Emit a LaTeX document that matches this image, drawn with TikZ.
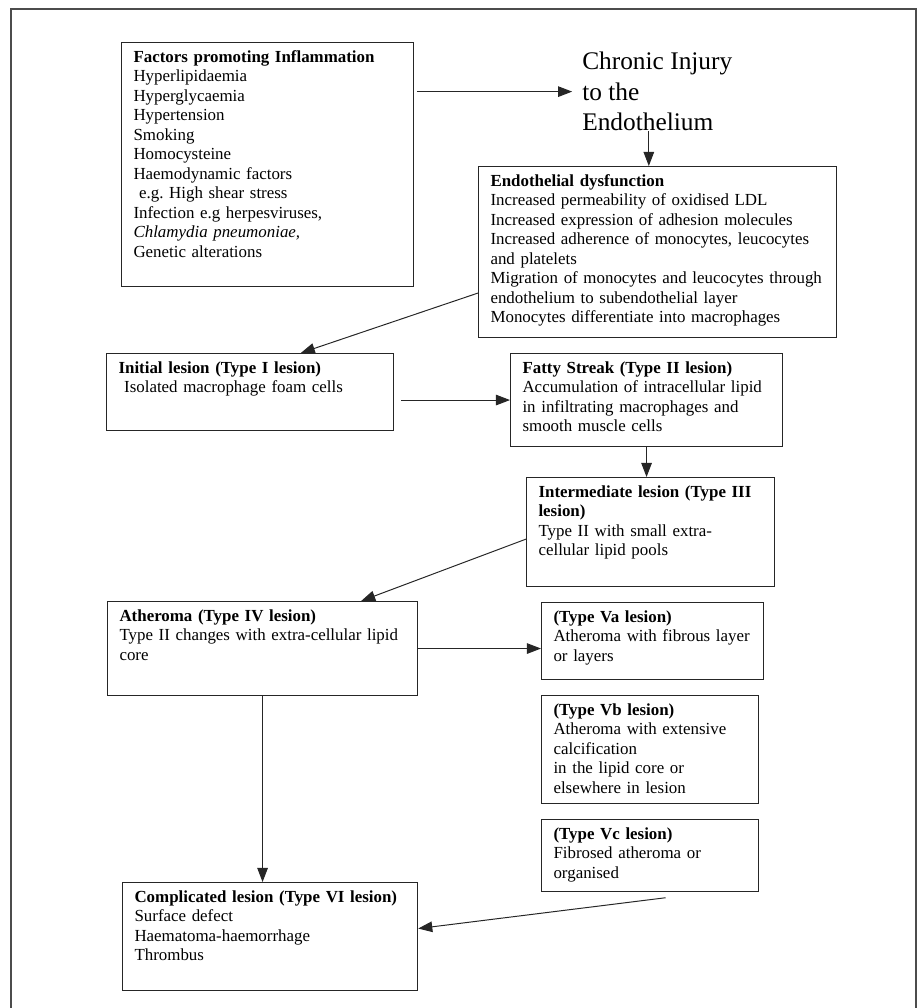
\documentclass[tikz,border=0pt]{standalone}
\usepackage{fontspec}
\setmainfont{Liberation Serif}
\usetikzlibrary{arrows.meta}
\tikzset{
  lesion/.style={draw=black!85, line width=0.8pt, anchor=north west, align=left,
    inner xsep=8.5pt, inner ysep=5pt, text height=9pt,
    font=\fontsize{12}{13.85}\selectfont\frenchspacing},
  arr/.style={draw=black!85, line width=0.7pt, -{Triangle[length=10pt,width=7.5pt]}}
}
\begin{document}
\begin{tikzpicture}[x=0.71pt,y=-0.71pt]
  \useasboundingbox (0,0) rectangle (921,1008);
  \draw[black!70,line width=1.1pt] (11,1008) -- (11,9) -- (916,9) -- (916,1008);

  \node[lesion,text width=190.3pt,text depth=154.2pt] (fac) at (121,42)
    {\textbf{Factors promoting Inflammation}\\Hyperlipidaemia\\Hyperglycaemia\\Hypertension\\Smoking\\Homocysteine\\Haemodynamic factors\\~e.g. High shear stress\\Infection e.g herpesviruses,\\\textit{Chlamydia pneumoniae,}\\Genetic alterations};
  \node[anchor=north west,align=left,inner sep=0pt,font=\fontsize{18}{21.6}\selectfont] (chronic) at (582,52)
    {Chronic Injury\\to the\\Endothelium};
  \node[lesion,text width=237.2pt,text depth=102.4pt] (endo) at (478,166)
    {\textbf{Endothelial dysfunction}\\Increased permeability of oxidised LDL\\Increased expression of adhesion molecules\\Increased adherence of monocytes, leucocytes\\and platelets\\Migration of monocytes and leucocytes through\\endothelium to subendothelial layer\\Monocytes differentiate into macrophages};
  \node[lesion,text width=186.8pt,text depth=35.7pt] (init) at (106,353)
    {\textbf{Initial lesion (Type I lesion)}\\~Isolated macrophage foam cells};
  \node[lesion,text width=176.1pt,text depth=47pt] (fatty) at (510,353)
    {\textbf{Fatty Streak (Type II lesion)}\\Accumulation of intracellular lipid\\in infiltrating macrophages and\\smooth muscle cells};
  \node[lesion,text width=159.1pt,text depth=58.4pt] (inter) at (526,477)
    {\textbf{Intermediate lesion (Type III}\\\textbf{lesion)}\\Type II with small extra-\\cellular lipid pools};
  \node[lesion,text width=203.1pt,text depth=47.7pt] (ather) at (107,601)
    {\textbf{Atheroma (Type IV lesion)}\\Type II changes with extra-cellular lipid\\core};
  \node[lesion,text width=140.6pt,text depth=35.7pt] (va) at (541,602)
    {\textbf{(Type Va lesion)}\\Atheroma with fibrous layer\\or layers};
  \node[lesion,text width=137.1pt,text depth=57.7pt] (vb) at (541,695)
    {\textbf{(Type Vb lesion)}\\Atheroma with extensive\\calcification\\in the lipid core or\\elsewhere in lesion};
  \node[lesion,text width=137.1pt,text depth=32.1pt] (vc) at (541,819)
    {\textbf{(Type Vc lesion)}\\Fibrosed atheroma or\\organised};
  \node[lesion,text width=192.5pt,text depth=57.7pt] (comp) at (122,882)
    {\textbf{Complicated lesion (Type VI lesion)}\\Surface defect\\Haematoma-haemorrhage\\Thrombus};

  \draw[arr] ([xshift=2pt]fac.east |- chronic.west) -- ([xshift=-7pt]chronic.west);
  \draw[arr] ([xshift=-6pt]chronic.south) -- ([xshift=-6pt]chronic.south |- endo.north);
  \draw[arr] ([yshift=32pt]endo.south west) -- ([xshift=36pt]init.north);
  \draw[arr] ([xshift=5pt]init.east |- fatty.west) -- (fatty.west);
  \draw[arr] (fatty.south) -- (fatty.south |- inter.north);
  \draw[arr] ([yshift=-5pt]inter.west) -- ([xshift=70pt]ather.north);
  \draw[arr] (ather.east) -- (ather.east -| va.west);
  \draw[arr] (ather.south) -- (ather.south |- comp.north);
  \draw[arr] ([xshift=11pt,yshift=-4pt]vc.south) -- ([yshift=5.7pt]comp.east);
\end{tikzpicture}
\end{document}
